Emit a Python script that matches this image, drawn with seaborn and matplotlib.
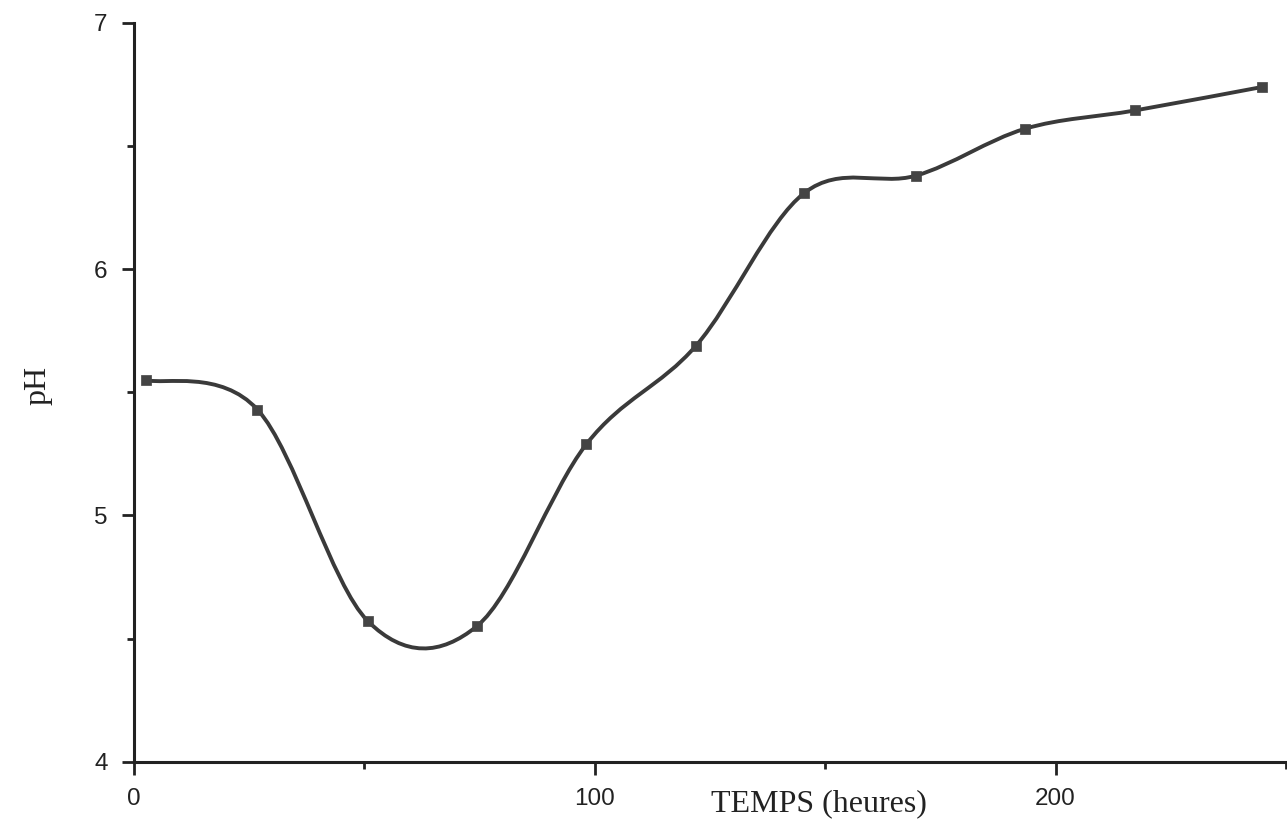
import numpy as np
import matplotlib
matplotlib.use("Agg")
import matplotlib.pyplot as plt
from matplotlib.path import Path
from matplotlib.patches import PathPatch
from matplotlib.ticker import MultipleLocator
import seaborn as sns
import pandas as pd

sns.set_style("ticks")

# Data
temps = [2.6, 26.8, 50.8, 74.4, 98.2, 122.0, 145.5, 169.7, 193.3, 217.3, 244.8]
ph = [5.55, 5.43, 4.57, 4.55, 5.29, 5.69, 6.31, 6.38, 6.57, 6.645, 6.74]
x_ticks = [0, 100, 200]
y_ticks = [4, 5, 6, 7]

df = pd.DataFrame({"temps": temps, "pH": ph})

fig = plt.figure(figsize=(12.87, 8.3), dpi=100)
ax = fig.add_axes([0.1041, 0.0823, 0.8951, 0.8900])

# smooth curve through the points (Catmull-Rom drawn as Bezier segments)
pts = np.column_stack([temps, ph])
verts = [pts[0]]
codes = [Path.MOVETO]
n = len(pts)
for i in range(n - 1):
    p0 = pts[i - 1] if i > 0 else pts[i]
    p1 = pts[i]
    p2 = pts[i + 1]
    p3 = pts[i + 2] if i + 2 < n else pts[i + 1]
    c1 = p1 + (p2 - p0) / 6.0
    c2 = p2 - (p3 - p1) / 6.0
    verts += [c1, c2, p2]
    codes += [Path.CURVE4] * 3
curve = PathPatch(Path(verts, codes), facecolor="none", edgecolor="#3a3a3a",
                  linewidth=2.8, capstyle="round", joinstyle="round")
ax.add_patch(curve)

sns.scatterplot(data=df, x="temps", y="pH", marker="s", s=45, color="#444444",
                edgecolor="#444444", linewidth=0.5, ax=ax, zorder=3)

ax.set_xlim(0, 250)
ax.set_ylim(4, 7)
ax.set_xticks(x_ticks)
ax.set_yticks(y_ticks)
ax.xaxis.set_minor_locator(MultipleLocator(50))
ax.yaxis.set_minor_locator(MultipleLocator(0.5))

for side in ["top", "right"]:
    ax.spines[side].set_visible(False)
for side in ["left", "bottom"]:
    ax.spines[side].set_linewidth(2.2)
    ax.spines[side].set_color("#222222")

ax.tick_params(which="major", length=9, width=2, color="#222222",
               labelsize=17.5, pad=10, labelcolor="#222222")
ax.tick_params(which="minor", length=5, width=2, color="#222222")
for lab in ax.get_xticklabels() + ax.get_yticklabels():
    lab.set_family("Liberation Sans")

ax.set_xlabel("TEMPS (heures)", family="Liberation Serif", fontsize=23, color="#222222")
ax.set_ylabel("pH", family="Liberation Serif", fontsize=23, color="#222222")
ax.xaxis.set_label_coords(0.595, -0.057)
ax.yaxis.set_label_coords(-0.083, 0.51)
ax.xaxis.label.set_va("center")
ax.yaxis.label.set_va("center")

fig.savefig("out.png", dpi=100, facecolor="white")
